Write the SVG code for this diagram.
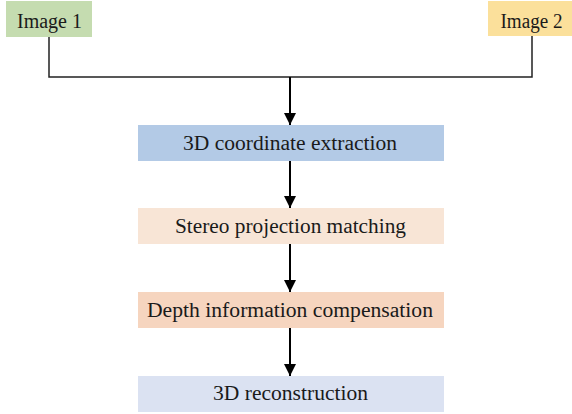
<svg xmlns="http://www.w3.org/2000/svg" width="572" height="414" viewBox="0 0 572 414">
<style>
text{font-family:"Liberation Serif","Times New Roman",serif;font-size:20px;fill:#1a1a1a;text-anchor:middle}
.ln{fill:none;stroke:#222;stroke-width:1.5}
.ar{fill:none;stroke:#000;stroke-width:2}
</style>
<defs>
<marker id="ah" viewBox="0 0 12 12" refX="12" refY="6" markerWidth="12" markerHeight="12" markerUnits="userSpaceOnUse" orient="auto">
<path d="M0,0 L12,6 L0,12 Z" fill="#000"/>
</marker>
</defs>
<rect width="572" height="414" fill="#fff"/>
<g id="connectors">
<path class="ln" d="M49,37 V77 H532 V36"/>
<path class="ar" d="M290,77 V125" marker-end="url(#ah)"/>
<path class="ar" d="M290,161 V208" marker-end="url(#ah)"/>
<path class="ar" d="M290,244 V292" marker-end="url(#ah)"/>
<path class="ar" d="M290,328 V376" marker-end="url(#ah)"/>
</g>
<g id="image1"><rect x="6" y="1" width="86" height="36" fill="#c5dcb0"/><text x="49.5" y="28" textLength="65" lengthAdjust="spacingAndGlyphs">Image 1</text></g>
<g id="image2"><rect x="488" y="1" width="84" height="35" fill="#fbe09b"/><text x="531.5" y="28" textLength="62" lengthAdjust="spacingAndGlyphs">Image 2</text></g>
<g id="coord"><rect x="138" y="125" width="306" height="36" fill="#b3cae6"/><text x="290" y="150" textLength="214" lengthAdjust="spacingAndGlyphs">3D coordinate extraction</text></g>
<g id="stereo"><rect x="138" y="208" width="306" height="36" fill="#f8e5d6"/><text x="290.5" y="233" textLength="231" lengthAdjust="spacingAndGlyphs">Stereo projection matching</text></g>
<g id="depth"><rect x="138" y="292" width="306" height="36" fill="#f6d5bf"/><text x="290" y="317" textLength="286" lengthAdjust="spacingAndGlyphs">Depth information compensation</text></g>
<g id="recon"><rect x="138" y="376" width="306" height="36" fill="#dbe2f2"/><text x="290.5" y="400" textLength="155" lengthAdjust="spacingAndGlyphs">3D reconstruction</text></g>
</svg>
